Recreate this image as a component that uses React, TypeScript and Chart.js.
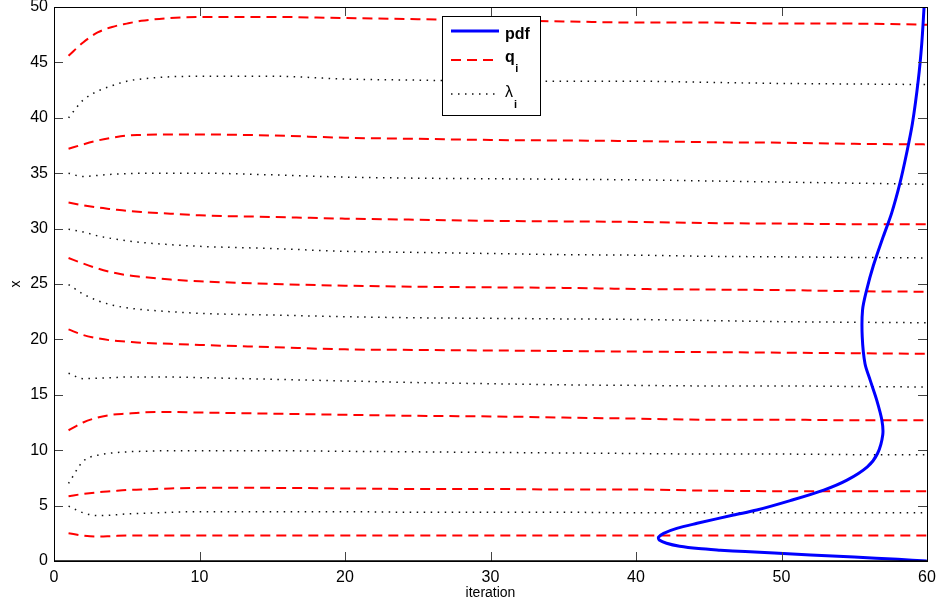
import { useEffect, useRef } from 'react';
import { Chart, registerables } from 'chart.js';
Chart.register(...registerables);

const iterations = [1, 2, 3, 4, 5, 6, 8, 10, 15, 20, 25, 30, 35, 40, 45, 50, 55, 60];

const q1 = [45.6, 46.8, 47.7, 48.2, 48.5, 48.75, 49.0, 49.1, 49.1, 49.0, 48.9, 48.8, 48.7, 48.6, 48.6, 48.5, 48.5, 48.4];
const q2 = [37.2, 37.6, 37.95, 38.2, 38.4, 38.45, 38.5, 38.5, 38.4, 38.2, 38.1, 38.0, 37.95, 37.9, 37.8, 37.75, 37.65, 37.6];
const q3 = [32.35, 32.1, 31.9, 31.75, 31.6, 31.5, 31.35, 31.2, 31.05, 30.9, 30.8, 30.7, 30.65, 30.6, 30.5, 30.45, 30.4, 30.4];
const q4 = [27.35, 26.85, 26.4, 26.05, 25.8, 25.65, 25.4, 25.25, 25.0, 24.85, 24.75, 24.7, 24.65, 24.55, 24.5, 24.45, 24.35, 24.3];
const q5 = [20.9, 20.4, 20.1, 19.9, 19.8, 19.7, 19.6, 19.5, 19.3, 19.1, 19.05, 19.0, 18.95, 18.9, 18.85, 18.8, 18.75, 18.7];
const q6 = [11.8, 12.5, 12.95, 13.2, 13.3, 13.4, 13.45, 13.4, 13.3, 13.2, 13.1, 13.05, 12.95, 12.85, 12.75, 12.75, 12.7, 12.7];
const q7 = [5.85, 6.05, 6.2, 6.3, 6.4, 6.45, 6.55, 6.6, 6.6, 6.55, 6.5, 6.5, 6.45, 6.45, 6.35, 6.3, 6.3, 6.3];
const q8 = [2.5, 2.3, 2.2, 2.25, 2.3, 2.3, 2.3, 2.3, 2.3, 2.3, 2.3, 2.3, 2.3, 2.3, 2.3, 2.3, 2.3, 2.3];

const lam1 = [40.0, 41.6, 42.4, 42.9, 43.3, 43.5, 43.7, 43.75, 43.75, 43.5, 43.4, 43.3, 43.3, 43.3, 43.2, 43.1, 43.05, 43.0];
const lam2 = [35.0, 34.7, 34.8, 34.9, 34.95, 35.0, 35.0, 35.0, 34.85, 34.65, 34.55, 34.5, 34.45, 34.4, 34.3, 34.2, 34.1, 34.0];
const lam3 = [29.95, 29.7, 29.35, 29.1, 28.9, 28.75, 28.55, 28.4, 28.2, 27.95, 27.85, 27.75, 27.65, 27.6, 27.5, 27.45, 27.4, 27.35];
const lam4 = [24.95, 24.1, 23.5, 23.1, 22.85, 22.7, 22.5, 22.35, 22.2, 22.05, 21.95, 21.9, 21.85, 21.8, 21.7, 21.6, 21.55, 21.5];
const lam5 = [16.95, 16.45, 16.5, 16.55, 16.6, 16.6, 16.6, 16.55, 16.4, 16.25, 16.1, 16.0, 15.9, 15.85, 15.8, 15.8, 15.75, 15.7];
const lam6 = [7.0, 9.0, 9.55, 9.75, 9.85, 9.9, 9.95, 9.95, 9.95, 9.9, 9.85, 9.8, 9.75, 9.7, 9.65, 9.65, 9.6, 9.6];
const lam7 = [4.95, 4.35, 4.1, 4.15, 4.25, 4.3, 4.4, 4.45, 4.45, 4.45, 4.4, 4.4, 4.4, 4.35, 4.35, 4.35, 4.35, 4.35];

const pdfX = [59.98, 58.0, 55.0, 52.0, 49.5, 47.5, 45.8, 44.3, 43.0, 42.1, 41.6, 41.55, 41.9, 42.8, 44.2, 46.7, 48.3, 50.6, 52.9, 54.5, 55.9, 56.6, 56.96, 56.9, 56.55, 56.1, 55.74, 55.55, 55.57, 55.85, 56.3, 57.0, 57.57, 58.14, 58.6, 59.0, 59.4, 59.64, 59.8];
const pdfY = [0, 0.15, 0.35, 0.55, 0.72, 0.85, 0.98, 1.12, 1.33, 1.6, 1.9, 2.15, 2.5, 2.95, 3.4, 4.15, 4.6, 5.45, 6.4, 7.3, 8.5, 9.7, 11.4, 12.7, 14.5, 16.3, 17.8, 20.2, 22.65, 24.45, 26.6, 29.3, 31.4, 34.1, 36.8, 39.5, 43.4, 46.7, 50];

const xTicks = [0, 10, 20, 30, 40, 50, 60];
const yTicks = [0, 5, 10, 15, 20, 25, 30, 35, 40, 45, 50];

const qSeries = [q1, q2, q3, q4, q5, q6, q7, q8];
const lamSeries = [lam1, lam2, lam3, lam4, lam5, lam6, lam7];

const FONT = "'Liberation Sans', Arial, Helvetica, sans-serif";
const RED = '#ff0000';
const BLUE = '#0000ff';
const DOT = '#111111';
const DASH = [10, 6];
const DOTS = [1.5, 5.5];

const matlabPlugin = {
  id: 'matlabAxes',
  afterDatasetsDraw(chart: any) {
    const { ctx, chartArea: a, scales } = chart;
    ctx.save();
    ctx.strokeStyle = '#444';
    ctx.lineWidth = 1;
    const TL = 9;
    xTicks.forEach((t) => {
      const px = Math.round(scales.x.getPixelForValue(t)) + 0.5;
      ctx.beginPath();
      ctx.moveTo(px, a.bottom);
      ctx.lineTo(px, a.bottom - TL);
      ctx.moveTo(px, a.top);
      ctx.lineTo(px, a.top + TL);
      ctx.stroke();
    });
    yTicks.forEach((t) => {
      const py = Math.round(scales.y.getPixelForValue(t)) + 0.5;
      ctx.beginPath();
      ctx.moveTo(a.left, py);
      ctx.lineTo(a.left + TL, py);
      ctx.moveTo(a.right, py);
      ctx.lineTo(a.right - TL, py);
      ctx.stroke();
    });
    ctx.strokeStyle = '#000';
    ctx.lineWidth = 1;
    ctx.strokeRect(Math.round(a.left) + 0.5, Math.round(a.top) + 0.5, Math.round(a.right - a.left), Math.round(a.bottom - a.top));
    ctx.lineWidth = 1.5;
    ctx.beginPath();
    ctx.moveTo(a.left, a.bottom);
    ctx.lineTo(a.right, a.bottom);
    ctx.stroke();

    // legend
    const bx = a.left + 388;
    const by = a.top + 9;
    const bw = 98;
    const bh = 99;
    ctx.fillStyle = '#fff';
    ctx.fillRect(bx, by, bw, bh);
    ctx.strokeStyle = '#000';
    ctx.lineWidth = 1;
    ctx.strokeRect(bx + 0.5, by + 0.5, bw, bh);
    const lx0 = bx + 9;
    const lx1 = bx + 57;
    const tx = bx + 63;
    ctx.strokeStyle = BLUE;
    ctx.lineWidth = 3;
    ctx.setLineDash([]);
    ctx.beginPath();
    ctx.moveTo(lx0, by + 15);
    ctx.lineTo(lx1, by + 15);
    ctx.stroke();
    ctx.strokeStyle = RED;
    ctx.lineWidth = 2;
    ctx.setLineDash(DASH);
    ctx.beginPath();
    ctx.moveTo(lx0, by + 44);
    ctx.lineTo(lx1, by + 44);
    ctx.stroke();
    ctx.strokeStyle = DOT;
    ctx.lineWidth = 1.5;
    ctx.setLineDash(DOTS);
    ctx.beginPath();
    ctx.moveTo(lx0, by + 78);
    ctx.lineTo(lx1, by + 78);
    ctx.stroke();
    ctx.setLineDash([]);
    ctx.fillStyle = '#000';
    ctx.textBaseline = 'alphabetic';
    ctx.textAlign = 'left';
    ctx.font = `bold 16px ${FONT}`;
    ctx.fillText('pdf', tx, by + 22.5);
    ctx.fillText('q', tx, by + 46);
    const qw = ctx.measureText('q').width;
    ctx.font = `bold 11px ${FONT}`;
    ctx.fillText('i', tx + qw + 0.5, by + 56);
    ctx.font = `16px ${FONT}`;
    ctx.fillText('λ', tx, by + 81);
    const lw = ctx.measureText('λ').width;
    ctx.font = `bold 11px ${FONT}`;
    ctx.fillText('i', tx + lw + 1, by + 92);
    ctx.restore();
  },
};

export default function App() {
  const ref = useRef<HTMLCanvasElement | null>(null);
  useEffect(() => {
    document.body.style.margin = '0';
    const canvas = ref.current;
    if (!canvas) return;
    const datasets: any[] = [];
    datasets.push({
      label: 'pdf',
      data: pdfX.map((x, i) => ({ x, y: pdfY[i] })),
      borderColor: BLUE,
      borderWidth: 3,
      pointRadius: 0,
      showLine: true,
      tension: 0.3,
      fill: false,
    });
    qSeries.forEach((s, k) => {
      datasets.push({
        label: k === 0 ? 'q_i' : `q${k + 1}`,
        data: iterations.map((it, i) => ({ x: it, y: s[i] })),
        borderColor: RED,
        borderWidth: 2,
        borderDash: DASH,
        pointRadius: 0,
        showLine: true,
        cubicInterpolationMode: 'monotone',
        fill: false,
      });
    });
    lamSeries.forEach((s, k) => {
      datasets.push({
        label: k === 0 ? 'λ_i' : `lam${k + 1}`,
        data: iterations.map((it, i) => ({ x: it, y: s[i] })),
        borderColor: DOT,
        borderWidth: 1.5,
        borderDash: DOTS,
        pointRadius: 0,
        showLine: true,
        cubicInterpolationMode: 'monotone',
        fill: false,
      });
    });
    const chart = new Chart(canvas, {
      type: 'scatter',
      data: { datasets },
      options: {
        animation: false,
        responsive: false,
        maintainAspectRatio: false,
        layout: { padding: { top: 7, right: 14, left: 0, bottom: 0 } },
        plugins: { legend: { display: false }, tooltip: { enabled: false } },
        scales: {
          x: {
            type: 'linear',
            min: 0,
            max: 60,
            afterBuildTicks: (s: any) => { s.ticks = xTicks.map((v) => ({ value: v })); },
            afterFit: (s: any) => { s.height = 44; s.paddingLeft = 0; s.paddingRight = 0; },
            grid: { display: false, drawTicks: false },
            border: { display: false },
            ticks: { color: '#000', font: { family: FONT, size: 16 }, padding: 7, maxRotation: 0 },
            title: { display: true, text: 'iteration', color: '#000', font: { family: FONT, size: 14 }, padding: { top: 0, bottom: 3 } },
          },
          y: {
            type: 'linear',
            min: 0,
            max: 50,
            afterBuildTicks: (s: any) => { s.ticks = yTicks.map((v) => ({ value: v })); },
            afterFit: (s: any) => { s.width = 54; s.paddingTop = 0; s.paddingBottom = 0; },
            grid: { display: false, drawTicks: false },
            border: { display: false },
            ticks: { color: '#000', font: { family: FONT, size: 16 }, padding: 6 },
            title: { display: true, text: 'x', color: '#000', font: { family: FONT, size: 14 }, padding: { top: 8, bottom: 0 } },
          },
        },
      },
      plugins: [matlabPlugin],
    });
    return () => chart.destroy();
  }, []);
  return (
    <div style={{ width: 941, height: 605 }}>
      <canvas ref={ref} width={941} height={605} />
    </div>
  );
}
